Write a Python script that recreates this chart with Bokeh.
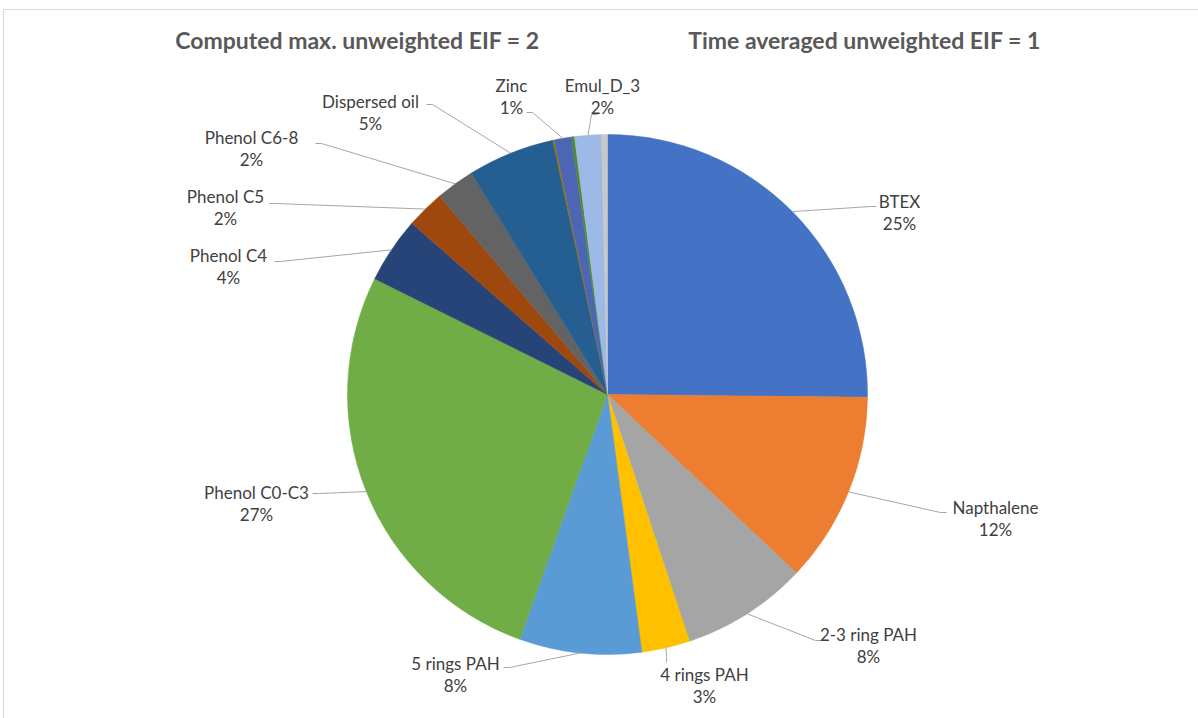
import math
from bokeh.plotting import figure
from bokeh.models import Range1d
from bokeh.core.properties import value
from bokeh.embed import file_html
from bokeh.resources import INLINE

# ---- data ----
categories = ["BTEX", "Napthalene", "2-3 ring PAH", "4 rings PAH", "5 rings PAH",
              "Phenol C0-C3", "Phenol C4", "Phenol C5", "Phenol C6-8", "Dispersed oil",
              "", "Zinc", "", "Emul_D_3", ""]
shares = [25.2, 11.9, 7.85, 3.0, 7.6, 26.9, 4.1, 2.4, 2.4, 5.4, 0.1, 1.06, 0.19, 1.66, 0.37]
titles = ["Computed max. unweighted EIF = 2", "Time averaged unweighted EIF = 1"]

# ---- styles ----
colors = ["#4472C4", "#ED7D31", "#A5A5A5", "#FFC000", "#5B9BD5", "#70AD47", "#264478",
          "#9E480E", "#636363", "#255E91", "#997300", "#4C66B4", "#4E8A36", "#9DB9E6", "#C8C8C8"]

W, H = 1198, 718
CX, CY, R = 607, 394, 260  # image coords of pie centre, radius (px)

# label layout (image coordinates): label centre of first line, leader bend, leader end
label_pos = {
    "BTEX": (899, 201, 870, 206, 876, 206),
    "Napthalene": (995, 507, 940, 512, 946, 512),
    "2-3 ring PAH": (868, 634, 815, 640, 821, 640),
    "4 rings PAH": (704, 674, 666, 656, 666, 662),
    "5 rings PAH": (455, 663, 509, 667, 503, 667),
    "Phenol C0-C3": (256, 492, 318, 493, 312, 493),
    "Phenol C4": (228, 255, 280, 261, 274, 261),
    "Phenol C5": (225, 196, 275, 203, 269, 203),
    "Phenol C6-8": (251, 137, 321, 143, 315, 143),
    "Dispersed oil": (370, 101, 432, 104, 426, 104),
    "Zinc": (511, 85, 532, 112, 526, 112),
    "Emul_D_3": (602, 85, 591, 114, 597, 114),
}

def Y(y):
    return H - y

p = figure(width=W, height=H, output_backend="svg", toolbar_location=None,
           x_range=Range1d(0, W), y_range=Range1d(0, H), min_border=0)
p.axis.visible = False
p.xgrid.visible = False
p.ygrid.visible = False
p.outline_line_color = None
p.background_fill_color = "white"

# chart-area border
p.quad(left=[3], right=[W + 50], top=[Y(9)], bottom=[-50], fill_color=None,
       line_color="#d9d9d9", line_width=1)

total = sum(shares)
cum = 0.0
starts, ends, mids = [], [], []
for v in shares:
    f0 = cum / total
    cum += v
    f1 = cum / total
    starts.append(math.pi / 2 - 2 * math.pi * f0)
    ends.append(math.pi / 2 - 2 * math.pi * f1)
    mids.append(2 * math.pi * (f0 + f1) / 2)

p.wedge(x=[CX] * len(shares), y=[Y(CY)] * len(shares), radius=R,
        start_angle=starts, end_angle=ends, direction="clock",
        fill_color=colors, line_color=colors, line_width=0.5)

# leader lines and labels
xs, ys = [], []
nx, ny, nt, px_, py_, pt = [], [], [], [], [], []
for name, v, m in zip(categories, shares, mids):
    if not name:
        continue
    lx, ly, bx, by, ex, ey = label_pos[name]
    sx = CX + R * math.sin(m)
    sy = CY - R * math.cos(m)
    xs.append([sx, bx, ex])
    ys.append([Y(sy), Y(by), Y(ey)])
    nx.append(lx); ny.append(Y(ly)); nt.append(name)
    px_.append(lx); py_.append(Y(ly + 22)); pt.append(f"{round(v / total * 100)}%")

p.multi_line(xs=xs, ys=ys, line_color="#a6a6a6", line_width=1)

font = value("Lato")
p.text(x=nx, y=ny, text=nt, text_align="center", text_baseline="middle",
       text_font=font, text_font_size="17px", text_color="#404040")
p.text(x=px_, y=py_, text=pt, text_align="center", text_baseline="middle",
       text_font=font, text_font_size="17px", text_color="#404040")

# titles
p.text(x=[357, 864], y=[Y(39), Y(39)], text=titles, text_align="center",
       text_baseline="middle", text_font=font, text_font_size="23px",
       text_font_style="bold", text_color="#595959")

open("out.html", "w").write(file_html(p, INLINE))
